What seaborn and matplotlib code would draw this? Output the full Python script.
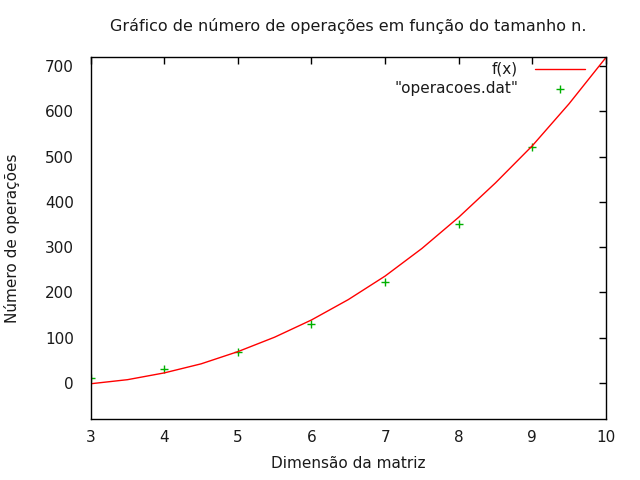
import numpy as np
import pandas as pd
import matplotlib
matplotlib.use("Agg")
import matplotlib.pyplot as plt
import seaborn as sns

# pontos lidos do ficheiro "operacoes.dat"
dimensao = [3, 4, 5, 6, 7, 8, 9]
operacoes = [11, 31, 68, 131, 223, 351, 521]

# curva f(x) (ajuste)
fx_x = [3, 3.5, 4, 4.5, 5, 5.5, 6, 6.5, 7, 7.5, 8, 8.5, 9, 9.5, 10]
fx_y = [-2, 7, 22, 42, 69, 101, 139, 184, 236, 297, 366, 442, 524, 617, 719]

sns.set_theme(style="white")
plt.rcParams["font.family"] = ["DejaVu Sans"]
plt.rcParams["xtick.direction"] = "in"
plt.rcParams["ytick.direction"] = "in"

txt = "#1a1a1a"
fs = 11

fig = plt.figure(figsize=(6.4, 4.8), dpi=100)
ax = fig.add_axes([0.1417, 0.127, 0.805, 0.754])

sns.lineplot(x=fx_x, y=fx_y, color="#ff0000", linewidth=1.0, ax=ax, label="f(x)")
sns.scatterplot(x=dimensao, y=operacoes, marker="+", color="#00b000", s=30,
                linewidth=1.0, ax=ax, label='"operacoes.dat"')

ax.set_xlim(3, 10)
ax.set_ylim(-80, 720)
ax.set_xticks(range(3, 11))
ax.set_yticks(range(0, 701, 100))
ax.tick_params(axis="both", which="both", length=5, width=1, colors="black",
               labelsize=fs, top=True, right=True, labelcolor=txt)
ax.tick_params(axis="y", pad=12)
ax.tick_params(axis="x", pad=8)
for s in ax.spines.values():
    s.set_color("black")
    s.set_linewidth(1)

ax.set_title("Gráfico de número de operações em função do tamanho n.",
             fontsize=fs + 0.5, pad=19, color=txt)
ax.set_xlabel("Dimensão da matriz", fontsize=fs, color=txt, labelpad=8)
ax.set_ylabel("Número de operações", fontsize=fs, color=txt, labelpad=18)

leg = ax.legend(loc="upper right", bbox_to_anchor=(0.978, 1.012), frameon=False,
                markerfirst=False, handlelength=3.3, handletextpad=1.1,
                labelspacing=0.25, fontsize=fs, borderaxespad=0.2)
for t in leg.get_texts():
    t.set_color(txt)
    t.set_ha("right")

fig.savefig("out.png", dpi=100)
